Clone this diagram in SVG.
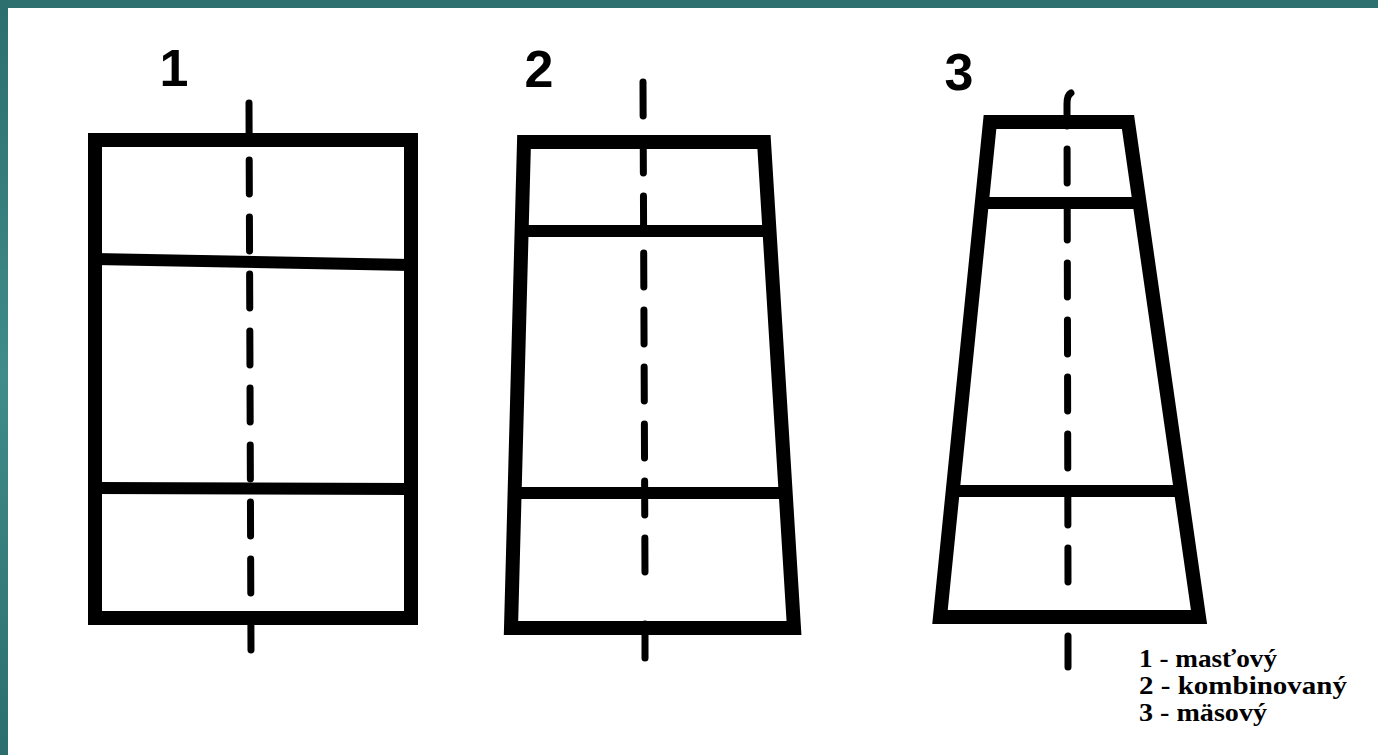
<svg xmlns="http://www.w3.org/2000/svg" width="1378" height="755" viewBox="0 0 1378 755">
<defs>
<style>
.frame{fill:none;stroke:#000;stroke-width:14;stroke-linejoin:miter}
.bar{stroke:#000;stroke-width:12;fill:none}
.axis{stroke:#000;stroke-width:7;fill:none;stroke-linecap:round;stroke-dasharray:34 23}
.solid{stroke:#000;stroke-width:7;fill:none;stroke-linecap:round}
.num{font-family:"Liberation Sans",Arial,sans-serif;font-weight:bold;font-size:52px;fill:#000;text-anchor:middle}
.leg{font-family:"Liberation Serif","Times New Roman",serif;font-weight:bold;font-size:25px;fill:#000}
</style>
<linearGradient id="tl" x1="0" y1="0" x2="0" y2="1">
<stop offset="0" stop-color="#2c6e6e"/>
<stop offset="0.5" stop-color="#3f8c8a"/>
<stop offset="1" stop-color="#2c6e6e"/>
</linearGradient>
</defs>
<rect x="0" y="0" width="1378" height="755" fill="#fff"/>
<rect x="0" y="0" width="1378" height="8" fill="#2e7070"/>
<rect x="0" y="0" width="8" height="755" fill="url(#tl)"/>

<g id="label-1"><text class="num" x="174" y="86">1</text></g>
<g id="label-2"><text class="num" x="539" y="87">2</text></g>
<g id="label-3"><text class="num" x="959" y="90">3</text></g>

<g id="node-1">
<rect class="frame" x="95" y="140" width="316" height="478"/>
<line class="bar" x1="95" y1="259" x2="411" y2="265"/>
<line class="bar" x1="95" y1="488" x2="411" y2="489"/>
</g>

<g id="node-2">
<polygon class="frame" points="524,142 764,142 794,628 511,628"/>
<line class="bar" x1="521" y1="231" x2="769" y2="231"/>
<line class="bar" x1="515" y1="493" x2="786" y2="493"/>
</g>

<g id="node-3">
<polygon class="frame" points="990,122 1128,122 1199,617 940,617"/>
<line class="bar" x1="982" y1="203" x2="1140" y2="203"/>
<line class="bar" x1="953" y1="491" x2="1181" y2="491"/>
</g>

<g id="connectors">
<line class="axis" x1="249" y1="103" x2="251" y2="654"/>
<line class="axis" x1="643" y1="82" x2="645" y2="576"/>
<line class="solid" x1="645" y1="624" x2="645" y2="658"/>
<path class="axis" d="M1071,93 Q1067,95 1067,104 L1068,584"/>
<line class="solid" x1="1068" y1="636" x2="1068" y2="667"/>
</g>

<g id="legend">
<text class="leg" x="1139" y="667" textLength="138" lengthAdjust="spacingAndGlyphs">1 - masťový</text>
<text class="leg" x="1139" y="694" textLength="208" lengthAdjust="spacingAndGlyphs">2 - kombinovaný</text>
<text class="leg" x="1139" y="721" textLength="128" lengthAdjust="spacingAndGlyphs">3 - mäsový</text>
</g>
</svg>
